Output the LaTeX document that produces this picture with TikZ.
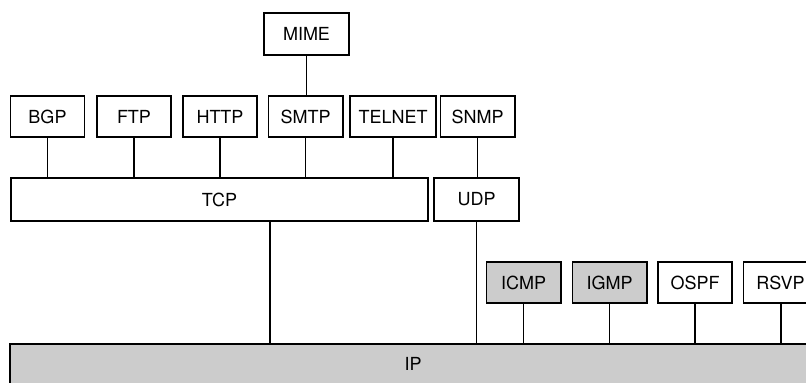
\documentclass[tikz,border=0pt]{standalone}
\usepackage{fontspec}
\setmainfont{TeX Gyre Heros}
\begin{document}
\begin{tikzpicture}[x=0.025cm,y=-0.025cm,line width=1.4pt,
		box/.style={draw,line width=1.4pt,minimum width=1.85cm,minimum height=1.03cm,inner sep=0pt,font=\fontsize{12.8}{15}\selectfont},
		shaded/.style={box,fill=black!20}]
	\useasboundingbox (0,0) rectangle (806,382);
	\clip (0,0) rectangle (806,382);
	% applications
	\node[box,minimum width=2.13cm] (mime) at (306.5,34) {MIME};
	\node[box] (bgp) at (47.5,116.5) {BGP};
	\node[box] (ftp) at (134,116.5) {FTP};
	\node[box] (http) at (220,116.5) {HTTP};
	\node[box] (smtp) at (305.5,116.5) {SMTP};
	\node[box,minimum width=2.15cm] (telnet) at (393,116.5) {TELNET};
	\node[box] (snmp) at (477.5,116.5) {SNMP};
	% transport
	\node[box,minimum width=10.43cm,minimum height=1.08cm] (tcp) at (219.5,199.5) {TCP};
	\node[box,minimum width=2.13cm,minimum height=1.08cm] (udp) at (476.5,199.5) {UDP};
	% network
	\node[shaded] (icmp) at (523.5,282.5) {ICMP};
	\node[shaded] (igmp) at (609.5,282.5) {IGMP};
	\node[box] (ospf) at (695,282.5) {OSPF};
	\node[box] (rsvp) at (780.5,282.5) {RSVP};
	\node[shaded,minimum width=20.15cm,minimum height=1cm] (ip) at (413,364) {IP};
	\draw (mime.south) -- (mime.south |- smtp.north);
	\foreach \p in {bgp,ftp,http,smtp,telnet}
		\draw (\p.south) -- (\p.south |- tcp.north);
	\draw (snmp.south) -- (snmp.south |- udp.north);
	\coordinate (tcpdown) at (270,221);
	\draw (tcpdown |- tcp.south) -- (tcpdown |- ip.north);
	\draw (udp.south) -- (udp.south |- ip.north);
	\foreach \p in {icmp,igmp,ospf,rsvp}
		\draw (\p.south) -- (\p.south |- ip.north);
\end{tikzpicture}
\end{document}
